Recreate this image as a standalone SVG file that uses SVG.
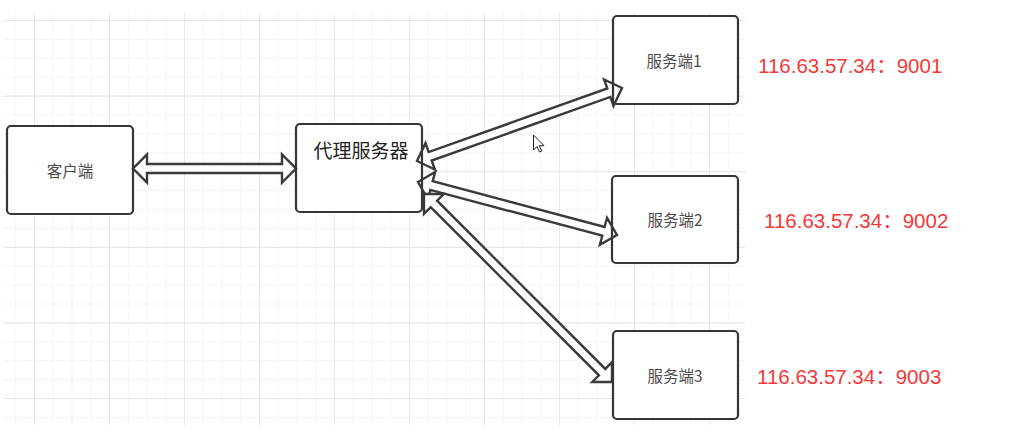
<svg xmlns="http://www.w3.org/2000/svg" width="1023" height="431" viewBox="0 0 1023 431">
  <defs>
    <pattern id="minor" patternUnits="userSpaceOnUse" x="-2.5" y="2.1" width="18.75" height="18.9">
      <path d="M18.75 0 V18.9 M0 18.9 H18.75" fill="none" stroke="#ececec" stroke-width="1"/>
    </pattern>
    <pattern id="major" patternUnits="userSpaceOnUse" x="-40" y="-54.6" width="75" height="75.6">
      <path d="M75 0 V75.6 M0 75.6 H75" fill="none" stroke="#e0e0e0" stroke-width="1.3"/>
    </pattern>
  </defs>
  <style>
    .box { fill: #ffffff; stroke: none; }
    .boxline { fill: none; stroke: #363636; stroke-width: 2.2; }
    .arrow { fill: #ffffff; stroke: #3a3a3a; stroke-width: 2.4; stroke-linejoin: miter; }
    .lbl { font-family: "Noto Sans CJK SC", "Liberation Sans", sans-serif; fill: #4a4a4a; text-anchor: middle; dominant-baseline: central; }
    .ip { font-family: "Liberation Sans", "Noto Sans CJK SC", sans-serif; font-size: 20.5px; fill: #f23a3a; }
  </style>

  <rect x="0" y="0" width="1023" height="431" fill="#ffffff"/>
  <g id="grid">
    <rect x="3" y="13" width="742" height="412" fill="url(#minor)"/>
    <rect x="3" y="13" width="742" height="412" fill="url(#major)"/>
  </g>

  <g id="box-fills">
    <rect class="box" x="7" y="126" width="126" height="88" rx="4"/>
    <rect class="box" x="296" y="124" width="126" height="88" rx="4"/>
    <rect class="box" x="613" y="16" width="125" height="88" rx="4"/>
    <rect class="box" x="612" y="176" width="126" height="87" rx="4"/>
    <rect class="box" x="613" y="331" width="125" height="88" rx="4"/>
  </g>

  <g id="connectors">
    <polygon class="arrow" points="0,0 14,-14 14,-4.5 149,-4.5 149,-14 163,0 149,14 149,4.5 14,4.5 14,14" transform="translate(133,168.5)"/>
    <polygon class="arrow" points="0,0 14,-14 14,-4.5 203.6,-4.5 203.6,-14 217.6,0 203.6,14 203.6,4.5 14,4.5 14,14" transform="translate(417,161) rotate(-19.6)"/>
    <polygon class="arrow" points="0,0 14,-14 14,-4.5 191.9,-4.5 191.9,-14 205.9,0 191.9,14 191.9,4.5 14,4.5 14,14" transform="translate(418,182) rotate(14.9)"/>
    <polygon class="arrow" points="0,0 14,-14 14,-4.5 251.9,-4.5 251.9,-14 265.9,0 251.9,14 251.9,4.5 14,4.5 14,14" transform="translate(424,194) rotate(45)"/>
  </g>

  <g id="client">
    <rect class="boxline" x="7" y="126" width="126" height="88" rx="4"/>
    <text class="lbl" x="70" y="170" font-size="15.5">客户端</text>
  </g>
  <g id="proxy">
    <rect class="boxline" x="296" y="124" width="126" height="88" rx="4"/>
    <text class="lbl" x="361" y="149" font-size="19" style="fill:#222222">代理服务器</text>
  </g>
  <g id="server1">
    <rect class="boxline" x="613" y="16" width="125" height="88" rx="4"/>
    <text class="lbl" x="674" y="60" font-size="15.5">服务端1</text>
  </g>
  <g id="server2">
    <rect class="boxline" x="612" y="176" width="126" height="87" rx="4"/>
    <text class="lbl" x="675" y="219" font-size="15.5">服务端2</text>
  </g>
  <g id="server3">
    <rect class="boxline" x="613" y="331" width="125" height="88" rx="4"/>
    <text class="lbl" x="675" y="375" font-size="15.5">服务端3</text>
  </g>

  <g id="ip-labels">
    <text class="ip" x="758" y="73">116.63.57.34：9001</text>
    <text class="ip" x="764" y="228">116.63.57.34：9002</text>
    <text class="ip" x="757" y="384">116.63.57.34：9003</text>
  </g>

  <path id="cursor" d="M0,0 L0,15 L3.5,11.5 L6,17 L8.2,16 L5.8,10.7 L10.5,10.7 Z" transform="translate(533.5,135)" fill="#ffffff" stroke="#222222" stroke-width="1" stroke-linejoin="miter"/>
</svg>
